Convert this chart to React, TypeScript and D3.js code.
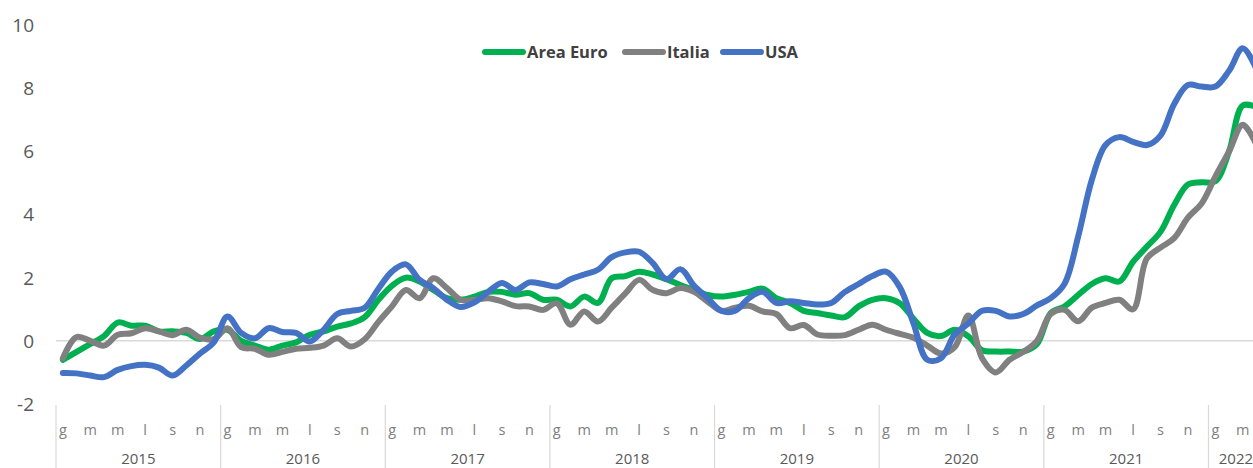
import React from "react";
import * as d3 from "d3";

const years = [2015, 2016, 2017, 2018, 2019, 2020, 2021, 2022];
const monthInitials = ["g", "f", "m", "a", "m", "g", "l", "a", "s", "o", "n", "d"];
const monthCount = 88; // Jan 2015 .. Apr 2022
const yTicks = [-2, 0, 2, 4, 6, 8, 10];
const seriesNames = ["Area Euro", "Italia", "USA"];
const seriesColors = ["#00B050", "#808080", "#4472C4"];

const areaEuro = [
  -0.6, -0.35, -0.1, 0.15, 0.58, 0.48, 0.48, 0.3, 0.3, 0.25, 0.06, 0.3,
  0.35, 0.0, -0.15, -0.28, -0.15, -0.05, 0.19, 0.3, 0.45, 0.55, 0.75, 1.3,
  1.75, 2.0, 1.88, 1.61, 1.35, 1.3, 1.4, 1.55, 1.55, 1.46, 1.51, 1.3,
  1.3, 1.09, 1.4, 1.2, 1.98, 2.05, 2.19, 2.1, 1.95, 1.77, 1.61, 1.45,
  1.4, 1.46, 1.55, 1.65, 1.35, 1.2, 0.95, 0.88, 0.8, 0.75, 1.09, 1.3,
  1.35, 1.19, 0.7, 0.25, 0.15, 0.35, 0.14, -0.3, -0.34, -0.34, -0.34, -0.1,
  0.88, 1.09, 1.45, 1.8, 1.98, 1.88, 2.5, 2.98, 3.45, 4.3, 4.95, 5.02,
  5.05, 6.0, 7.45, 7.4,
];

const italia = [
  -0.55, 0.12, 0.0, -0.15, 0.19, 0.24, 0.4, 0.3, 0.18, 0.35, 0.1, 0.05,
  0.4, -0.2, -0.25, -0.44, -0.35, -0.25, -0.22, -0.15, 0.08, -0.18, 0.05, 0.6,
  1.1, 1.61, 1.35, 1.98, 1.67, 1.3, 1.3, 1.35, 1.25, 1.1, 1.09, 0.98,
  1.19, 0.51, 0.93, 0.61, 1.05, 1.5, 1.93, 1.61, 1.51, 1.67, 1.55, 1.24,
  0.95, 1.05, 1.11, 0.93, 0.85, 0.4, 0.5, 0.2, 0.16, 0.18, 0.35, 0.51,
  0.35, 0.22, 0.1, -0.15, -0.4, -0.2, 0.8, -0.55, -1.0, -0.6, -0.35, 0.0,
  0.85, 0.98, 0.62, 1.05, 1.2, 1.3, 1.0, 2.6, 2.95, 3.25, 3.9, 4.35,
  5.2, 6.0, 6.84, 6.2,
];

const usa = [
  -1.02, -1.03, -1.1, -1.15, -0.92, -0.8, -0.76, -0.85, -1.1, -0.78, -0.4, -0.05,
  0.77, 0.25, 0.08, 0.4, 0.28, 0.25, -0.02, 0.35, 0.85, 0.95, 1.05, 1.65,
  2.2, 2.42, 1.93, 1.67, 1.3, 1.07, 1.22, 1.55, 1.83, 1.61, 1.85, 1.8,
  1.72, 1.95, 2.1, 2.25, 2.65, 2.8, 2.82, 2.46, 1.95, 2.27, 1.75, 1.35,
  0.95, 0.95, 1.35, 1.55, 1.2, 1.25, 1.2, 1.15, 1.2, 1.55, 1.8, 2.05,
  2.19, 1.7, 0.55, -0.6, -0.55, 0.2, 0.55, 0.95, 0.95, 0.77, 0.85, 1.12,
  1.35, 1.8, 3.3, 5.1, 6.2, 6.45, 6.3, 6.2, 6.5, 7.5, 8.1, 8.05,
  8.05, 8.55, 9.26, 8.6,
];

const seriesData = [areaEuro, italia, usa];

const W = 1253;
const H = 468;
const FONT = "'Open Sans', Lato, sans-serif";

export default function App() {
  const plotLeft = 56;
  const monthW = 13.72;
  const x = d3
    .scaleBand<number>()
    .domain(d3.range(monthCount))
    .range([plotLeft, plotLeft + monthW * monthCount])
    .padding(0);
  const cx = (i: number) => (x(i) as number) + x.bandwidth() / 2;
  const y = d3.scaleLinear().domain([-2, 10]).range([404, 25]);

  const line = d3
    .line<number>()
    .x((_, i) => cx(i))
    .y((v) => y(v))
    .curve(d3.curveCatmullRom.alpha(0.5));

  const legendItems = [
    { x0: 482, tx: 527 },
    { x0: 622, tx: 667 },
    { x0: 720, tx: 765 },
  ];

  return (
    <svg
      width={W}
      height={H}
      style={{ position: "absolute", left: 0, top: 0, background: "#fff" }}
      fontFamily={FONT}
    >
      <rect x={0} y={0} width={W} height={H} fill="#fff" />
      {yTicks.map((t) => (
        <text
          key={t}
          x={34}
          y={y(t)}
          dy="0.36em"
          textAnchor="end"
          fontSize={19}
          fill="#595959"
        >
          {t}
        </text>
      ))}
      <line x1={plotLeft} x2={W} y1={y(0)} y2={y(0)} stroke="#d9d9d9" strokeWidth={1.5} />
      {years.map((yr, k) => {
        const start = x(k * 12) as number;
        return (
          <line key={yr} x1={start} x2={start} y1={405} y2={H} stroke="#d9d9d9" strokeWidth={1.2} />
        );
      })}
      {d3.range(monthCount).filter((i) => i % 2 === 0).map((i) => (
        <text key={i} x={cx(i)} y={435} textAnchor="middle" fontSize={14.5} fill="#808080">
          {monthInitials[i % 12]}
        </text>
      ))}
      {years.map((yr, k) => {
        const first = k * 12;
        const last = Math.min(monthCount - 1, k * 12 + 11);
        const mid = ((x(first) as number) + (x(last) as number) + x.bandwidth()) / 2;
        return (
          <text key={yr} x={mid} y={464} textAnchor="middle" fontSize={15} fill="#595959">
            {yr}
          </text>
        );
      })}
      {seriesData.map((d, k) => (
        <path
          key={seriesNames[k]}
          d={line(d) || ""}
          fill="none"
          stroke={seriesColors[k]}
          strokeWidth={6}
          strokeLinejoin="round"
          strokeLinecap="round"
        />
      ))}
      {seriesNames.map((n, k) => (
        <g key={n}>
          <line
            x1={legendItems[k].x0 + 3}
            x2={legendItems[k].tx - 4}
            y1={52}
            y2={52}
            stroke={seriesColors[k]}
            strokeWidth={6}
            strokeLinecap="round"
          />
          <text x={legendItems[k].tx} y={52} dy="0.36em" fontSize={16.5} fontWeight="bold" fill="#404040">
            {n}
          </text>
        </g>
      ))}
    </svg>
  );
}
